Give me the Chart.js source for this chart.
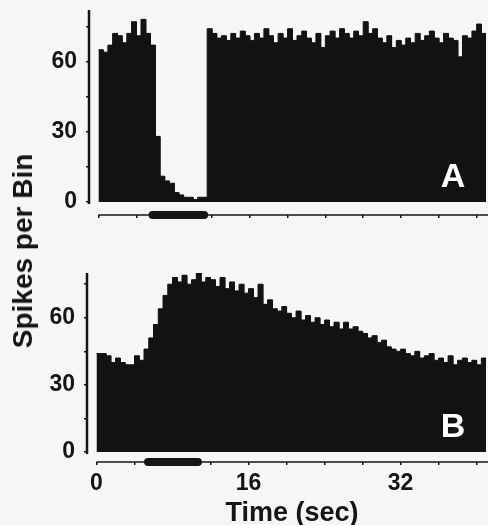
<!DOCTYPE html>
<html><head><meta charset="utf-8">
<script src="https://cdn.jsdelivr.net/npm/chart.js@4.4.1/dist/chart.umd.min.js"></script>
<style>
html,body{margin:0;padding:0;background:#f6f6f4;width:488px;height:525px;overflow:hidden;}
#wrap{position:relative;width:488px;height:525px;}
canvas{position:absolute;left:0;}
#cA{top:0;} #cB{top:235px;}
.t{position:absolute;font-family:"Liberation Sans",Arial,sans-serif;font-weight:bold;color:#151515;white-space:nowrap;line-height:1;}
#yt{font-size:28px;left:23px;top:251px;transform:translate(-50%,-50%) rotate(-90deg);}
#xt{font-size:27px;left:292px;top:512px;transform:translate(-50%,-50%);}
</style></head><body>
<div id="wrap">
<canvas id="cA" width="488" height="235"></canvas>
<canvas id="cB" width="488" height="290"></canvas>
<div class="t" id="yt">Spikes per Bin</div>
<div class="t" id="xt">Time (sec)</div>
</div>
<script>
// ---- data ----
const BIN_SEC = 0.5;
const spikesA = [
  65, 64, 67, 72, 71, 68, 72, 77, 71, 78, 72, 67,
  28, 11, 9, 8, 4, 3, 2, 2, 1, 2, 2,
  74,
  72, 70, 71, 69, 72, 70, 73, 71, 69, 72,
  70, 74, 71, 68, 72, 70, 74, 69, 71, 73,
  70, 68, 72, 66, 71, 73, 70, 74, 72, 70,
  73, 71, 77, 72, 74, 70, 68, 71, 66, 69,
  67, 70, 68, 72, 69, 71, 73, 70, 68, 72,
  70, 69, 62, 71, 70, 73, 76, 72
];
const spikesB = [
  44, 44, 43, 40, 42, 40, 39, 39, 43, 41,
  46, 51, 57, 64, 70, 75,
  78, 76, 79, 75, 77, 80, 76, 78, 77, 74, 78, 73, 76, 72, 75, 71,
  73, 69, 75, 66, 68, 64, 63, 65,
  62, 60, 63, 59, 61, 58, 60, 57,
  59, 56, 58, 55, 58, 55, 56, 54,
  53, 51, 52, 49, 50, 47, 46, 45,
  46, 44, 43, 45, 42, 43, 44, 41,
  42, 40, 43, 39, 41, 42, 40, 41, 39, 42
];
const stimA = [5.3, 11.6];
const stimB = [5.0, 11.1];
const yTickValues = [0, 15, 30, 45, 60, 75];
const yTickLabels = [0, 30, 60];
const xTickValues = [0, 4, 8, 12, 16, 20, 24, 28, 32, 36, 40];
const xTickLabels = [0, 16, 32];
const panelLetters = ['A', 'B'];

// ---- drawing ----
const INK = '#151515';
const BAR = '#141210';
const FONT = '"Liberation Sans", Arial, sans-serif';

function histPoints(values) {
  const pts = [];
  values.forEach((v, i) => {
    pts.push({x: i * BIN_SEC, y: v});
    pts.push({x: (i + 1) * BIN_SEC, y: v});
  });
  return pts;
}

function makeChart(id, values, stim, letter, o) {
  const deco = {
    id: 'deco' + letter,
    afterDraw(chart) {
      const {ctx, chartArea: a, scales: {x, y}} = chart;
      ctx.save();
      ctx.strokeStyle = INK;
      ctx.lineWidth = 2.5;
      ctx.beginPath();
      ctx.moveTo(a.left, y.getPixelForValue(0) + 2);
      ctx.lineTo(a.left, y.getPixelForValue(o.yTop));
      ctx.stroke();
      ctx.lineWidth = 1.6;
      ctx.beginPath();
      ctx.moveTo(x.getPixelForValue(0), a.bottom);
      ctx.lineTo(a.right, a.bottom);
      ctx.stroke();
      ctx.lineWidth = 8;
      ctx.lineCap = 'round';
      ctx.beginPath();
      ctx.moveTo(x.getPixelForValue(stim[0]) + 4, a.bottom);
      ctx.lineTo(x.getPixelForValue(stim[1]) - 4, a.bottom);
      ctx.stroke();
      ctx.fillStyle = '#ffffff';
      ctx.font = 'bold 34px ' + FONT;
      ctx.textAlign = 'center';
      ctx.textBaseline = 'middle';
      ctx.fillText(letter, a.right - 35, y.getPixelForValue(0) - 24);
      ctx.restore();
    }
  };
  return new Chart(document.getElementById(id), {
    type: 'line',
    data: {
      datasets: [{
        data: histPoints(values),
        fill: 'origin',
        backgroundColor: BAR,
        borderColor: BAR,
        borderWidth: 1,
        pointRadius: 0,
        tension: 0
      }]
    },
    options: {
      responsive: false,
      animation: false,
      events: [],
      layout: {padding: {top: o.padTop, left: 0, right: 0, bottom: 0}},
      plugins: {legend: {display: false}, tooltip: {enabled: false}},
      scales: {
        x: {
          type: 'linear', min: -1, max: 41.2,
          afterBuildTicks: s => { s.ticks = xTickValues.map(v => ({value: v})); },
          afterFit: s => { s.height = o.xH; s.paddingLeft = 0; s.paddingRight = 0; },
          border: {display: false},
          grid: {drawOnChartArea: false, drawTicks: true, tickLength: 3, color: INK, lineWidth: 1.5},
          ticks: {
            display: o.showX, autoSkip: false, maxRotation: 0, padding: 5, color: INK,
            font: {family: FONT, size: 23, weight: 'bold'},
            callback: v => xTickLabels.includes(v) ? String(v) : ''
          }
        },
        y: {
          type: 'linear', min: o.yMin, max: o.yMax,
          afterBuildTicks: s => { s.ticks = yTickValues.map(v => ({value: v})); },
          afterFit: s => { s.width = o.yW; s.paddingTop = 0; s.paddingBottom = 0; },
          border: {display: false},
          grid: {drawOnChartArea: false, drawTicks: true, tickLength: 3, color: INK, lineWidth: 1.5},
          ticks: {
            autoSkip: false, padding: 9, color: INK,
            font: {family: FONT, size: 23, weight: 'bold'},
            callback: v => yTickLabels.includes(v) ? String(v) : ''
          }
        }
      }
    },
    plugins: [deco]
  });
}

makeChart('cA', spikesA, stimA, panelLetters[0],
  {padTop: 10, yMin: -5.57, yMax: 82, yTop: 82, yW: 89, xH: 20, showX: false});
makeChart('cB', spikesB, stimB, panelLetters[1],
  {padTop: 38, yMin: -4.44, yMax: 80, yTop: 80, yW: 87, xH: 63, showX: true});
</script>
</body></html>
